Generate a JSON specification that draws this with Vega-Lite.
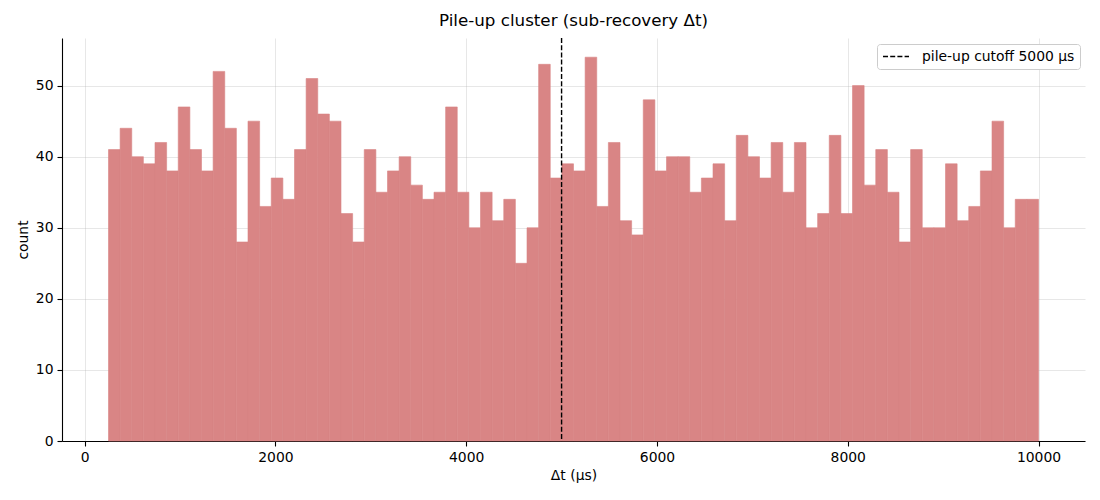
{
  "$schema": "https://vega.github.io/schema/vega-lite/v6.json",
  "width": 1023,
  "height": 403,
  "autosize": {"type": "none"},
  "padding": {"left": 62, "top": 38, "right": 15, "bottom": 59},
  "title": {"text": "Pile-up cluster (sub-recovery Δt)", "fontSize": 16.7, "fontWeight": "normal", "font": "DejaVu Sans", "color": "black", "offset": 8, "anchor": "middle"},
  "datasets": {
    "hist": [
      {"bin_start": 250, "bin_end": 371.875, "count": 41},
      {"bin_start": 371.875, "bin_end": 493.75, "count": 44},
      {"bin_start": 493.75, "bin_end": 615.625, "count": 40},
      {"bin_start": 615.625, "bin_end": 737.5, "count": 39},
      {"bin_start": 737.5, "bin_end": 859.375, "count": 42},
      {"bin_start": 859.375, "bin_end": 981.25, "count": 38},
      {"bin_start": 981.25, "bin_end": 1103.125, "count": 47},
      {"bin_start": 1103.125, "bin_end": 1225, "count": 41},
      {"bin_start": 1225, "bin_end": 1346.875, "count": 38},
      {"bin_start": 1346.875, "bin_end": 1468.75, "count": 52},
      {"bin_start": 1468.75, "bin_end": 1590.625, "count": 44},
      {"bin_start": 1590.625, "bin_end": 1712.5, "count": 28},
      {"bin_start": 1712.5, "bin_end": 1834.375, "count": 45},
      {"bin_start": 1834.375, "bin_end": 1956.25, "count": 33},
      {"bin_start": 1956.25, "bin_end": 2078.125, "count": 37},
      {"bin_start": 2078.125, "bin_end": 2200, "count": 34},
      {"bin_start": 2200, "bin_end": 2321.875, "count": 41},
      {"bin_start": 2321.875, "bin_end": 2443.75, "count": 51},
      {"bin_start": 2443.75, "bin_end": 2565.625, "count": 46},
      {"bin_start": 2565.625, "bin_end": 2687.5, "count": 45},
      {"bin_start": 2687.5, "bin_end": 2809.375, "count": 32},
      {"bin_start": 2809.375, "bin_end": 2931.25, "count": 28},
      {"bin_start": 2931.25, "bin_end": 3053.125, "count": 41},
      {"bin_start": 3053.125, "bin_end": 3175, "count": 35},
      {"bin_start": 3175, "bin_end": 3296.875, "count": 38},
      {"bin_start": 3296.875, "bin_end": 3418.75, "count": 40},
      {"bin_start": 3418.75, "bin_end": 3540.625, "count": 36},
      {"bin_start": 3540.625, "bin_end": 3662.5, "count": 34},
      {"bin_start": 3662.5, "bin_end": 3784.375, "count": 35},
      {"bin_start": 3784.375, "bin_end": 3906.25, "count": 47},
      {"bin_start": 3906.25, "bin_end": 4028.125, "count": 35},
      {"bin_start": 4028.125, "bin_end": 4150, "count": 30},
      {"bin_start": 4150, "bin_end": 4271.875, "count": 35},
      {"bin_start": 4271.875, "bin_end": 4393.75, "count": 31},
      {"bin_start": 4393.75, "bin_end": 4515.625, "count": 34},
      {"bin_start": 4515.625, "bin_end": 4637.5, "count": 25},
      {"bin_start": 4637.5, "bin_end": 4759.375, "count": 30},
      {"bin_start": 4759.375, "bin_end": 4881.25, "count": 53},
      {"bin_start": 4881.25, "bin_end": 5003.125, "count": 37},
      {"bin_start": 5003.125, "bin_end": 5125, "count": 39},
      {"bin_start": 5125, "bin_end": 5246.875, "count": 38},
      {"bin_start": 5246.875, "bin_end": 5368.75, "count": 54},
      {"bin_start": 5368.75, "bin_end": 5490.625, "count": 33},
      {"bin_start": 5490.625, "bin_end": 5612.5, "count": 42},
      {"bin_start": 5612.5, "bin_end": 5734.375, "count": 31},
      {"bin_start": 5734.375, "bin_end": 5856.25, "count": 29},
      {"bin_start": 5856.25, "bin_end": 5978.125, "count": 48},
      {"bin_start": 5978.125, "bin_end": 6100, "count": 38},
      {"bin_start": 6100, "bin_end": 6221.875, "count": 40},
      {"bin_start": 6221.875, "bin_end": 6343.75, "count": 40},
      {"bin_start": 6343.75, "bin_end": 6465.625, "count": 35},
      {"bin_start": 6465.625, "bin_end": 6587.5, "count": 37},
      {"bin_start": 6587.5, "bin_end": 6709.375, "count": 39},
      {"bin_start": 6709.375, "bin_end": 6831.25, "count": 31},
      {"bin_start": 6831.25, "bin_end": 6953.125, "count": 43},
      {"bin_start": 6953.125, "bin_end": 7075, "count": 40},
      {"bin_start": 7075, "bin_end": 7196.875, "count": 37},
      {"bin_start": 7196.875, "bin_end": 7318.75, "count": 42},
      {"bin_start": 7318.75, "bin_end": 7440.625, "count": 35},
      {"bin_start": 7440.625, "bin_end": 7562.5, "count": 42},
      {"bin_start": 7562.5, "bin_end": 7684.375, "count": 30},
      {"bin_start": 7684.375, "bin_end": 7806.25, "count": 32},
      {"bin_start": 7806.25, "bin_end": 7928.125, "count": 43},
      {"bin_start": 7928.125, "bin_end": 8050, "count": 32},
      {"bin_start": 8050, "bin_end": 8171.875, "count": 50},
      {"bin_start": 8171.875, "bin_end": 8293.75, "count": 36},
      {"bin_start": 8293.75, "bin_end": 8415.625, "count": 41},
      {"bin_start": 8415.625, "bin_end": 8537.5, "count": 35},
      {"bin_start": 8537.5, "bin_end": 8659.375, "count": 28},
      {"bin_start": 8659.375, "bin_end": 8781.25, "count": 41},
      {"bin_start": 8781.25, "bin_end": 8903.125, "count": 30},
      {"bin_start": 8903.125, "bin_end": 9025, "count": 30},
      {"bin_start": 9025, "bin_end": 9146.875, "count": 39},
      {"bin_start": 9146.875, "bin_end": 9268.75, "count": 31},
      {"bin_start": 9268.75, "bin_end": 9390.625, "count": 33},
      {"bin_start": 9390.625, "bin_end": 9512.5, "count": 38},
      {"bin_start": 9512.5, "bin_end": 9634.375, "count": 45},
      {"bin_start": 9634.375, "bin_end": 9756.25, "count": 30},
      {"bin_start": 9756.25, "bin_end": 9878.125, "count": 34},
      {"bin_start": 9878.125, "bin_end": 10000, "count": 34}
    ],
    "cutoff": [
      {"x": 5000, "label": "pile-up cutoff 5000 µs"}
    ]
  },
  "layer": [
    {
      "data": {"name": "hist"},
      "mark": {"type": "rect", "color": "#d98585", "opacity": 1, "stroke": "#d98585", "strokeWidth": 0.6},
      "encoding": {
        "x": {"field": "bin_start", "type": "quantitative", "scale": {"domain": [-237.5, 10487.5], "nice": false, "zero": false},
          "axis": {"title": "Δt (µs)", "values": [0, 2000, 4000, 6000, 8000, 10000], "format": "d"}},
        "x2": {"field": "bin_end"},
        "y": {"field": "count", "type": "quantitative", "scale": {"domain": [0, 56.7], "nice": false},
          "axis": {"title": "count", "values": [0, 10, 20, 30, 40, 50]}},
        "y2": {"datum": 0}
      }
    },
    {
      "data": {"name": "cutoff"},
      "mark": {"type": "rule", "strokeDash": [5, 2.2], "strokeWidth": 1.4},
      "encoding": {
        "x": {"field": "x", "type": "quantitative"},
        "color": {"field": "label", "type": "nominal", "scale": {"range": ["black"]},
          "legend": {"title": null, "orient": "none", "legendX": 815, "legendY": 6, "symbolType": "M-1,0H3", "symbolDash": [5, 2.2], "symbolStrokeWidth": 1.4, "symbolSize": 169, "symbolStrokeColor": "black", "symbolFillColor": "transparent", "labelOffset": 25, "labelFontSize": 13.9, "labelFont": "DejaVu Sans", "labelColor": "black", "padding": 5, "fillColor": "white", "strokeColor": "#cccccc", "cornerRadius": 3}}
      }
    }
  ],
  "config": {
    "view": {"stroke": null},
    "font": "DejaVu Sans",
    "axis": {
      "zindex": 1,
      "grid": true,
      "gridColor": "#b0b0b0",
      "gridOpacity": 0.3,
      "gridWidth": 1,
      "domainColor": "black",
      "domainWidth": 1.1,
      "tickColor": "black",
      "tickWidth": 1.1,
      "tickSize": 5,
      "labelFontSize": 13.9,
      "labelColor": "black",
      "labelFont": "DejaVu Sans",
      "labelPadding": 4,
      "titleFontSize": 13.9,
      "titleFontWeight": "normal",
      "titleColor": "black",
      "titleFont": "DejaVu Sans",
      "titlePadding": 5
    }
  }
}
